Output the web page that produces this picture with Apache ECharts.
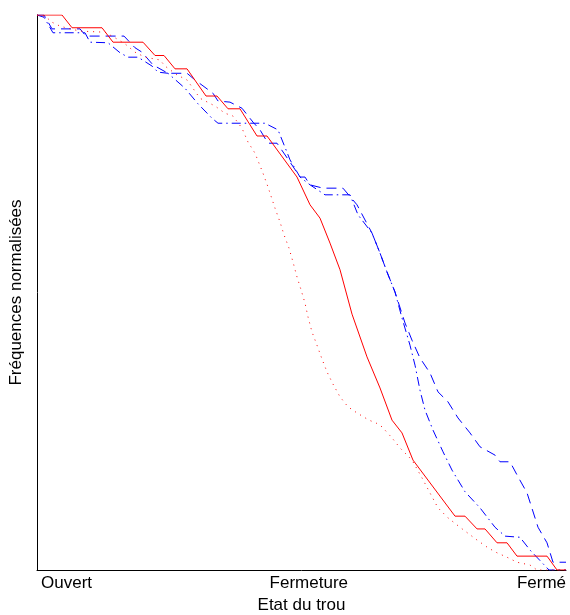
<!DOCTYPE html>
<html>
<head>
<meta charset="utf-8">
<script src="https://cdn.jsdelivr.net/npm/echarts@6/dist/echarts.min.js"></script>
<style>html,body{margin:0;padding:0;background:#fff}#c{width:570px;height:615px}</style>
</head>
<body>
<div id="c"></div>
<script>
// x: position from Ouvert (0) to Fermé (100); y: normalized frequency
const redSolidX = [0,4.73,6.62,12.29,14.37,20.04,22.31,24.01,26.09,28.36,31.95,34.03,36.11,38.37,41.59,43.48,49.15,51.61,53.50,55.39,57.28,59.55,62.38,64.84,67.11,69.00,71.08,73.91,79.02,80.91,83.18,84.69,86.96,88.85,90.74,96.41,98.30,100];
const redSolidY = [1,1,0.977,0.977,0.951,0.951,0.927,0.927,0.903,0.903,0.854,0.854,0.831,0.831,0.782,0.782,0.708,0.658,0.634,0.589,0.541,0.461,0.384,0.328,0.270,0.247,0.198,0.162,0.097,0.097,0.074,0.074,0.049,0.049,0.025,0.025,0,0];

const redDotX = [0,1.51,2.84,4.35,5.48,8.13,12.85,14.74,16.64,18.53,20.42,23.25,24.20,26.47,28.36,30.81,33.65,35.54,37.05,38.75,39.89,41.21,42.72,43.67,44.99,45.94,46.69,47.64,48.39,49.15,49.91,50.66,51.23,51.98,52.93,53.88,54.82,55.95,57.28,58.79,60.49,62.76,64.08,65.22,67.11,68.62,70.89,72.78,74.67,75.80,77.69,79.96,83.18,85.26,86.96,88.85,90.74,93.19,94.52,100];
const redDotY = [1,0.998,0.987,0.980,0.977,0.971,0.969,0.959,0.948,0.933,0.924,0.919,0.908,0.892,0.883,0.850,0.836,0.823,0.818,0.796,0.771,0.751,0.715,0.690,0.652,0.627,0.604,0.580,0.555,0.528,0.505,0.481,0.456,0.429,0.405,0.380,0.357,0.335,0.312,0.294,0.283,0.270,0.265,0.258,0.238,0.220,0.198,0.166,0.132,0.112,0.094,0.077,0.054,0.040,0.031,0.023,0.014,0.009,0,0];

const blueDashX = [0,1.32,2.84,8.13,9.26,16.45,18.53,19.85,21.93,24.76,28.36,29.87,33.27,34.22,36.48,38.75,40.83,42.16,43.67,45.37,47.83,49.72,50.66,51.61,54.06,57.84,60.49,63.33,64.84,66.16,67.67,69.57,70.89,72.40,74.29,75.80,77.69,79.58,81.85,83.74,86.58,87.52,89.41,90.93,92.63,94.71,96.41,97.54,100];
const blueDashY = [1,1,0.975,0.975,0.962,0.962,0.941,0.933,0.910,0.895,0.895,0.883,0.859,0.845,0.843,0.832,0.807,0.793,0.769,0.769,0.735,0.708,0.708,0.694,0.688,0.688,0.658,0.607,0.571,0.537,0.501,0.445,0.414,0.382,0.355,0.321,0.303,0.274,0.247,0.222,0.207,0.195,0.195,0.168,0.139,0.077,0.049,0.014,0.014];

const blueDashDotX = [0,1.32,3.02,9.07,10.02,13.42,15.69,17.20,19.09,21.74,22.87,24.76,27.98,30.43,33.08,34.22,43.10,45.56,47.83,49.72,51.61,54.44,59.17,60.68,63.33,64.84,66.16,67.67,69.00,70.51,71.46,72.40,73.35,74.86,76.75,78.45,80.91,83.74,86.58,88.47,91.30,93.19,96.79,100];
const blueDashDotY = [1,0.996,0.968,0.968,0.951,0.950,0.932,0.924,0.924,0.908,0.897,0.895,0.868,0.840,0.814,0.805,0.805,0.793,0.739,0.708,0.694,0.676,0.676,0.640,0.607,0.571,0.537,0.501,0.454,0.405,0.369,0.324,0.288,0.252,0.213,0.180,0.141,0.112,0.077,0.061,0.059,0.036,0,0];

const xTickValues = [0, 51, 100];
const xTickLabels = ['Ouvert', 'Fermeture', 'Fermé'];

function pairs(xs, ys) { return xs.map((x, i) => [x, ys[i]]); }

const chart = echarts.init(document.getElementById('c'));
const font = 'Liberation Sans, Arial, sans-serif';
chart.setOption({
  animation: false,
  backgroundColor: '#ffffff',
  grid: { left: 37, right: 4, top: 15, bottom: 45, containLabel: false, outerBoundsMode: 'none' },
  xAxis: {
    type: 'value', min: 0, max: 100,
    name: 'Etat du trou', nameLocation: 'middle', nameGap: 26,
    nameTextStyle: { fontFamily: font, fontSize: 17, color: '#000' },
    axisLine: { show: true, lineStyle: { color: '#000', width: 1 } },
    axisTick: { show: false },
    splitLine: { show: false },
    axisLabel: {
      customValues: xTickValues,
      formatter: v => { const i = xTickValues.indexOf(v); return i >= 0 ? xTickLabels[i] : ''; },
      alignMinLabel: 'left', alignMaxLabel: 'right',
      margin: 5, fontFamily: font, fontSize: 17, color: '#000', padding: [0, 0, 0, 4]
    }
  },
  yAxis: {
    type: 'value', min: 0, max: 1,
    name: 'Fréquences normalisées', nameLocation: 'middle', nameGap: 12, nameRotate: 90,
    nameTextStyle: { fontFamily: font, fontSize: 17, color: '#000' },
    axisLine: { show: true, lineStyle: { color: '#000', width: 1 } },
    axisTick: { show: false }, axisLabel: { show: false }, splitLine: { show: false }
  },
  series: [
    { type: 'line', data: pairs(blueDashX, blueDashY), showSymbol: false, symbol: 'none',
      lineStyle: { color: '#0000ff', width: 1, type: [10, 6] } },
    { type: 'line', data: pairs(blueDashDotX, blueDashDotY), showSymbol: false, symbol: 'none',
      lineStyle: { color: '#0000ff', width: 1, type: [9, 4, 1.5, 4] } },
    { type: 'line', data: pairs(redDotX, redDotY), showSymbol: false, symbol: 'none',
      lineStyle: { color: '#ff0000', width: 1, type: [1, 5] } },
    { type: 'line', data: pairs(redSolidX, redSolidY), showSymbol: false, symbol: 'none',
      lineStyle: { color: '#ff0000', width: 1, type: 'solid' } }
  ]
});
</script>
</body>
</html>
